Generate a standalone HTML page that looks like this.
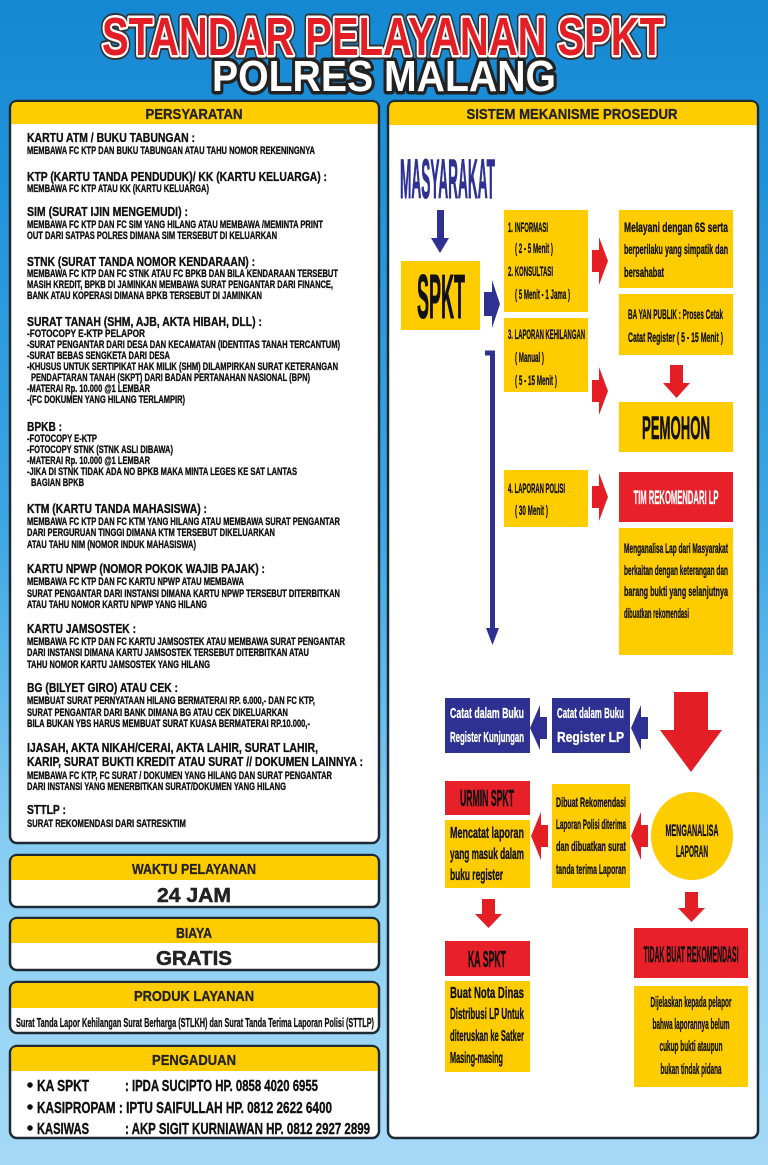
<!DOCTYPE html>
<html><head><meta charset="utf-8"><style>
html,body{margin:0;padding:0;width:768px;height:1165px;overflow:hidden}
svg{display:block}
text{font-family:"Liberation Sans",sans-serif;font-weight:bold}
</style></head><body>
<svg width="768" height="1165" viewBox="0 0 768 1165" xmlns="http://www.w3.org/2000/svg">
<defs>
<linearGradient id="bg" x1="0" y1="0" x2="0" y2="1">
<stop offset="0" stop-color="#1488d3"/><stop offset="0.45" stop-color="#3da6e3"/><stop offset="0.75" stop-color="#8ccff3"/><stop offset="1" stop-color="#a5daf6"/>
</linearGradient>
</defs>
<rect width="768" height="1165" fill="url(#bg)"/>

<!-- Title -->
<g text-anchor="middle">
<text x="383" y="55" font-size="54" textLength="562" lengthAdjust="spacingAndGlyphs" fill="#e31e25" stroke="#333" stroke-width="9" stroke-linejoin="round" paint-order="stroke">STANDAR PELAYANAN SPKT</text>
<text x="383" y="55" font-size="54" textLength="562" lengthAdjust="spacingAndGlyphs" fill="#e31e25" stroke="#fff" stroke-width="5" stroke-linejoin="round" paint-order="stroke">STANDAR PELAYANAN SPKT</text>
<text x="384" y="91" font-size="44" textLength="344" lengthAdjust="spacingAndGlyphs" fill="#fff" stroke="#222" stroke-width="7" stroke-linejoin="round" paint-order="stroke">POLRES MALANG</text>
</g>

<!-- Left panel -->
<rect x="10" y="101" width="369" height="742" rx="7" fill="#fff" stroke="#1d2a33" stroke-width="2.5"/>
<path d="M11.5 124 V107 Q11.5 102 17 102 H372 Q377.5 102 377.5 107 V124 Z" fill="#ffcc00"/>
<text x="194" y="119" font-size="15" text-anchor="middle" textLength="97" lengthAdjust="spacingAndGlyphs" fill="#222" stroke="#222" stroke-width="0.3">PERSYARATAN</text>

<g fill="#111" stroke="#111" stroke-width="0.35">
<text x="27" y="142" font-size="13" textLength="168" lengthAdjust="spacingAndGlyphs">KARTU ATM / BUKU TABUNGAN :</text>
<text x="27" y="154" font-size="11" textLength="288" lengthAdjust="spacingAndGlyphs">MEMBAWA FC KTP DAN BUKU TABUNGAN ATAU TAHU NOMOR REKENINGNYA</text>
<text x="27" y="181" font-size="13" textLength="300" lengthAdjust="spacingAndGlyphs">KTP (KARTU TANDA PENDUDUK)/ KK (KARTU KELUARGA) :</text>
<text x="27" y="192" font-size="11" textLength="182" lengthAdjust="spacingAndGlyphs">MEMBAWA FC KTP ATAU KK (KARTU KELUARGA)</text>
<text x="27" y="216" font-size="13" textLength="161" lengthAdjust="spacingAndGlyphs">SIM (SURAT IJIN MENGEMUDI) :</text>
<text x="27" y="228" font-size="11" textLength="296" lengthAdjust="spacingAndGlyphs">MEMBAWA FC KTP DAN FC SIM YANG HILANG ATAU MEMBAWA /MEMINTA PRINT</text>
<text x="27" y="239" font-size="11" textLength="250" lengthAdjust="spacingAndGlyphs">OUT DARI SATPAS POLRES DIMANA SIM TERSEBUT DI KELUARKAN</text>
<text x="27" y="266" font-size="13" textLength="228" lengthAdjust="spacingAndGlyphs">STNK (SURAT TANDA NOMOR KENDARAAN) :</text>
<text x="27" y="277" font-size="11" textLength="311" lengthAdjust="spacingAndGlyphs">MEMBAWA FC KTP DAN FC STNK ATAU FC BPKB DAN BILA KENDARAAN TERSEBUT</text>
<text x="27" y="288" font-size="11" textLength="306" lengthAdjust="spacingAndGlyphs">MASIH KREDIT, BPKB DI JAMINKAN MEMBAWA SURAT PENGANTAR DARI FINANCE,</text>
<text x="27" y="299" font-size="11" textLength="235" lengthAdjust="spacingAndGlyphs">BANK ATAU KOPERASI DIMANA BPKB TERSEBUT DI JAMINKAN</text>
<text x="27" y="326" font-size="13" textLength="235" lengthAdjust="spacingAndGlyphs">SURAT TANAH (SHM, AJB, AKTA HIBAH, DLL) :</text>
<text x="27" y="337" font-size="11" textLength="118" lengthAdjust="spacingAndGlyphs">-FOTOCOPY E-KTP PELAPOR</text>
<text x="27" y="348" font-size="11" textLength="313" lengthAdjust="spacingAndGlyphs">-SURAT PENGANTAR DARI DESA DAN KECAMATAN (IDENTITAS TANAH TERCANTUM)</text>
<text x="27" y="359" font-size="11" textLength="143" lengthAdjust="spacingAndGlyphs">-SURAT BEBAS SENGKETA DARI DESA</text>
<text x="27" y="370" font-size="11" textLength="311" lengthAdjust="spacingAndGlyphs">-KHUSUS UNTUK SERTIPIKAT HAK MILIK (SHM) DILAMPIRKAN SURAT KETERANGAN</text>
<text x="31" y="381" font-size="11" textLength="279" lengthAdjust="spacingAndGlyphs">PENDAFTARAN TANAH (SKPT) DARI BADAN PERTANAHAN NASIONAL (BPN)</text>
<text x="27" y="392" font-size="11" textLength="123" lengthAdjust="spacingAndGlyphs">-MATERAI Rp. 10.000 @1 LEMBAR</text>
<text x="27" y="403" font-size="11" textLength="158" lengthAdjust="spacingAndGlyphs">-(FC DOKUMEN YANG HILANG TERLAMPIR)</text>

<text x="27" y="431" font-size="13" textLength="35" lengthAdjust="spacingAndGlyphs">BPKB :</text>
<text x="27" y="442" font-size="11" textLength="70" lengthAdjust="spacingAndGlyphs">-FOTOCOPY E-KTP</text>
<text x="27" y="453" font-size="11" textLength="146" lengthAdjust="spacingAndGlyphs">-FOTOCOPY STNK (STNK ASLI DIBAWA)</text>
<text x="27" y="464" font-size="11" textLength="123" lengthAdjust="spacingAndGlyphs">-MATERAI Rp. 10.000 @1 LEMBAR</text>
<text x="27" y="475" font-size="11" textLength="270" lengthAdjust="spacingAndGlyphs">-JIKA DI STNK TIDAK ADA NO BPKB MAKA MINTA LEGES KE SAT LANTAS</text>
<text x="31" y="486" font-size="11" textLength="53" lengthAdjust="spacingAndGlyphs">BAGIAN BPKB</text>
<text x="27" y="513" font-size="13" textLength="180" lengthAdjust="spacingAndGlyphs">KTM (KARTU TANDA MAHASISWA) :</text>
<text x="27" y="525" font-size="11" textLength="313" lengthAdjust="spacingAndGlyphs">MEMBAWA FC KTP DAN FC KTM YANG HILANG ATAU MEMBAWA SURAT PENGANTAR</text>
<text x="27" y="536" font-size="11" textLength="248" lengthAdjust="spacingAndGlyphs">DARI PERGURUAN TINGGI DIMANA KTM TERSEBUT DIKELUARKAN</text>
<text x="27" y="548" font-size="11" textLength="169" lengthAdjust="spacingAndGlyphs">ATAU TAHU NIM (NOMOR INDUK MAHASISWA)</text>
<text x="27" y="573" font-size="13" textLength="238" lengthAdjust="spacingAndGlyphs">KARTU NPWP (NOMOR POKOK WAJIB PAJAK) :</text>
<text x="27" y="585" font-size="11" textLength="217" lengthAdjust="spacingAndGlyphs">MEMBAWA FC KTP DAN FC KARTU NPWP ATAU MEMBAWA</text>
<text x="27" y="597" font-size="11" textLength="313" lengthAdjust="spacingAndGlyphs">SURAT PENGANTAR DARI INSTANSI DIMANA KARTU NPWP TERSEBUT DITERBITKAN</text>
<text x="27" y="608" font-size="11" textLength="180" lengthAdjust="spacingAndGlyphs">ATAU TAHU NOMOR KARTU NPWP YANG HILANG</text>
<text x="27" y="633" font-size="13" textLength="109" lengthAdjust="spacingAndGlyphs">KARTU JAMSOSTEK :</text>
<text x="27" y="645" font-size="11" textLength="318" lengthAdjust="spacingAndGlyphs">MEMBAWA FC KTP DAN FC KARTU JAMSOSTEK ATAU MEMBAWA SURAT PENGANTAR</text>
<text x="27" y="656" font-size="11" textLength="282" lengthAdjust="spacingAndGlyphs">DARI INSTANSI DIMANA KARTU JAMSOSTEK TERSEBUT DITERBITKAN ATAU</text>
<text x="27" y="668" font-size="11" textLength="183" lengthAdjust="spacingAndGlyphs">TAHU NOMOR KARTU JAMSOSTEK YANG HILANG</text>
<text x="27" y="692" font-size="13" textLength="151" lengthAdjust="spacingAndGlyphs">BG (BILYET GIRO) ATAU CEK :</text>
<text x="27" y="704" font-size="11" textLength="288" lengthAdjust="spacingAndGlyphs">MEMBUAT SURAT PERNYATAAN HILANG BERMATERAI RP. 6.000,- DAN FC KTP,</text>
<text x="27" y="716" font-size="11" textLength="261" lengthAdjust="spacingAndGlyphs">SURAT PENGANTAR DARI BANK DIMANA BG ATAU CEK DIKELUARKAN</text>
<text x="27" y="727" font-size="11" textLength="283" lengthAdjust="spacingAndGlyphs">BILA BUKAN YBS HARUS MEMBUAT SURAT KUASA BERMATERAI RP.10.000,-</text>
<text x="27" y="752" font-size="13" textLength="291" lengthAdjust="spacingAndGlyphs">IJASAH, AKTA NIKAH/CERAI, AKTA LAHIR, SURAT LAHIR,</text>
<text x="27" y="766" font-size="13" textLength="336" lengthAdjust="spacingAndGlyphs">KARIP, SURAT BUKTI KREDIT ATAU SURAT // DOKUMEN LAINNYA :</text>
<text x="27" y="779" font-size="11" textLength="305" lengthAdjust="spacingAndGlyphs">MEMBAWA FC KTP, FC SURAT / DOKUMEN YANG HILANG DAN SURAT PENGANTAR</text>
<text x="27" y="790" font-size="11" textLength="259" lengthAdjust="spacingAndGlyphs">DARI INSTANSI YANG MENERBITKAN SURAT/DOKUMEN YANG HILANG</text>
<text x="27" y="814" font-size="13" textLength="39" lengthAdjust="spacingAndGlyphs">STTLP :</text>
<text x="27" y="827" font-size="11" textLength="159" lengthAdjust="spacingAndGlyphs">SURAT REKOMENDASI  DARI  SATRESKTIM</text>
</g>

<!-- Bottom-left boxes -->
<g>
<rect x="10" y="855" width="369" height="52" rx="7" fill="#fff" stroke="#1d2a33" stroke-width="2.5"/>
<path d="M11.5 880 V861 Q11.5 856 17 856 H372 Q377.5 856 377.5 861 V880 Z" fill="#ffcc00"/>
<text x="194" y="874" font-size="15" text-anchor="middle" textLength="124" lengthAdjust="spacingAndGlyphs" fill="#222" stroke="#222" stroke-width="0.3">WAKTU PELAYANAN</text>
<text x="194" y="902" font-size="20" text-anchor="middle" textLength="74" lengthAdjust="spacingAndGlyphs" fill="#222" stroke="#222" stroke-width="0.5">24 JAM</text>

<rect x="10" y="918" width="369" height="52" rx="7" fill="#fff" stroke="#1d2a33" stroke-width="2.5"/>
<path d="M11.5 943 V924 Q11.5 919 17 919 H372 Q377.5 919 377.5 924 V943 Z" fill="#ffcc00"/>
<text x="194" y="938" font-size="15" text-anchor="middle" textLength="36" lengthAdjust="spacingAndGlyphs" fill="#222" stroke="#222" stroke-width="0.3">BIAYA</text>
<text x="194" y="965" font-size="20" text-anchor="middle" textLength="76" lengthAdjust="spacingAndGlyphs" fill="#222" stroke="#222" stroke-width="0.5">GRATIS</text>

<rect x="10" y="982" width="369" height="51" rx="7" fill="#fff" stroke="#1d2a33" stroke-width="2.5"/>
<path d="M11.5 1008 V988 Q11.5 983 17 983 H372 Q377.5 983 377.5 988 V1008 Z" fill="#ffcc00"/>
<text x="194" y="1001" font-size="15" text-anchor="middle" textLength="120" lengthAdjust="spacingAndGlyphs" fill="#222" stroke="#222" stroke-width="0.3">PRODUK LAYANAN</text>
<text x="195" y="1027" font-size="13" text-anchor="middle" textLength="358" lengthAdjust="spacingAndGlyphs" fill="#111" stroke="#111" stroke-width="0.3">Surat Tanda Lapor Kehilangan Surat Berharga (STLKH) dan Surat Tanda Terima Laporan Polisi (STTLP)</text>

<rect x="10" y="1046" width="369" height="92" rx="7" fill="#fff" stroke="#1d2a33" stroke-width="2.5"/>
<path d="M11.5 1071 V1052 Q11.5 1047 17 1047 H372 Q377.5 1047 377.5 1052 V1071 Z" fill="#ffcc00"/>
<text x="194" y="1065" font-size="15" text-anchor="middle" textLength="84" lengthAdjust="spacingAndGlyphs" fill="#222" stroke="#222" stroke-width="0.3">PENGADUAN</text>
<g fill="#111" font-size="16" stroke="#111" stroke-width="0.4">
<circle cx="30" cy="1085" r="2.6"/><circle cx="30" cy="1107" r="2.6"/><circle cx="30" cy="1128" r="2.6"/>
<text x="37" y="1091" textLength="52" lengthAdjust="spacingAndGlyphs">KA SPKT</text>
<text x="125" y="1091" textLength="193" lengthAdjust="spacingAndGlyphs">: IPDA SUCIPTO HP. 0858 4020 6955</text>
<text x="37" y="1113" textLength="295" lengthAdjust="spacingAndGlyphs">KASIPROPAM : IPTU SAIFULLAH HP. 0812 2622 6400</text>
<text x="37" y="1134" textLength="52" lengthAdjust="spacingAndGlyphs">KASIWAS</text>
<text x="125" y="1134" textLength="245" lengthAdjust="spacingAndGlyphs">: AKP SIGIT KURNIAWAN HP. 0812 2927 2899</text>
</g>
</g>

<!-- Right panel -->
<rect x="388" y="101" width="370" height="1037" rx="7" fill="#fff" stroke="#1d2a33" stroke-width="2.5"/>
<path d="M389.5 125 V107 Q389.5 102 395 102 H751 Q756.5 102 756.5 107 V125 Z" fill="#ffcc00"/>
<text x="572" y="119" font-size="15" text-anchor="middle" textLength="211" lengthAdjust="spacingAndGlyphs" fill="#222" stroke="#222" stroke-width="0.3">SISTEM MEKANISME  PROSEDUR</text>

<!-- MASYARAKAT -->
<text x="400" y="198" font-size="56" textLength="95" lengthAdjust="spacingAndGlyphs" fill="#2e3192" stroke="#2e3192" stroke-width="1">MASYARAKAT</text>
<polygon points="437,210 444,210 444,238 449,238 440,253 431,238 437,238" fill="#2e3192"/>

<!-- SPKT -->
<rect x="401" y="261" width="79" height="69" fill="#ffcc00"/>
<text x="441" y="318" font-size="62" text-anchor="middle" textLength="48" lengthAdjust="spacingAndGlyphs" fill="#111" stroke="#111" stroke-width="1">SPKT</text>
<polygon points="484,292 492,292 492,280 500,304 492,328 492,316 484,316" fill="#2e3192"/>

<g fill="#111" font-size="14" stroke="#111" stroke-width="0.3">
<!-- Box 1/2 -->
<rect x="504" y="210" width="84" height="102" fill="#ffcc00" stroke="none"/>
<text x="508" y="232" textLength="40" lengthAdjust="spacingAndGlyphs">1. INFORMASI</text>
<text x="515" y="253" textLength="38" lengthAdjust="spacingAndGlyphs">( 2 - 5 Menit )</text>
<text x="508" y="276" textLength="45" lengthAdjust="spacingAndGlyphs">2. KONSULTASI</text>
<text x="515" y="299" textLength="55" lengthAdjust="spacingAndGlyphs">( 5 Menit - 1 Jama )</text>
<!-- Box 3 -->
<rect x="504" y="318" width="84" height="74" fill="#ffcc00" stroke="none"/>
<text x="508" y="339" textLength="77" lengthAdjust="spacingAndGlyphs">3. LAPORAN KEHILANGAN</text>
<text x="515" y="362" textLength="29" lengthAdjust="spacingAndGlyphs">( Manual )</text>
<text x="515" y="385" textLength="42" lengthAdjust="spacingAndGlyphs">( 5 - 15 Menit )</text>
</g>

<!-- red right arrows -->
<polygon points="592,250 599,250 599,237 608,261 599,285 599,272 592,272" fill="#e31e25"/>
<polygon points="592,380 599,380 599,367 608,391 599,415 599,402 592,402" fill="#e31e25"/>
<polygon points="592,486 599,486 599,473 608,497 599,521 599,508 592,508" fill="#e31e25"/>

<g fill="#111" font-size="14" stroke="#111" stroke-width="0.3">
<rect x="619" y="210" width="114" height="78" fill="#ffcc00" stroke="none"/>
<text x="624" y="232" textLength="104" lengthAdjust="spacingAndGlyphs">Melayani  dengan  6S  serta</text>
<text x="624" y="254" textLength="104" lengthAdjust="spacingAndGlyphs">berperilaku yang simpatik dan</text>
<text x="624" y="277" textLength="40" lengthAdjust="spacingAndGlyphs">bersahabat</text>
<rect x="619" y="294" width="114" height="61" fill="#ffcc00" stroke="none"/>
<text x="628" y="319" textLength="95" lengthAdjust="spacingAndGlyphs">BA YAN PUBLIK : Proses Cetak</text>
<text x="628" y="342" textLength="95" lengthAdjust="spacingAndGlyphs">Catat Register  ( 5 - 15 Menit )</text>
</g>
<polygon points="670,365 683,365 683,383 690,383 676.5,398 663,383 670,383" fill="#e31e25"/>
<rect x="619" y="402" width="114" height="50" fill="#ffcc00"/>
<text x="676" y="439" font-size="32" text-anchor="middle" textLength="68" lengthAdjust="spacingAndGlyphs" fill="#111" stroke="#111" stroke-width="0.6">PEMOHON</text>

<g fill="#111" font-size="14" stroke="#111" stroke-width="0.3">
<rect x="504" y="470" width="84" height="57" fill="#ffcc00" stroke="none"/>
<text x="508" y="493" textLength="57" lengthAdjust="spacingAndGlyphs">4. LAPORAN POLISI</text>
<text x="515" y="515" textLength="33" lengthAdjust="spacingAndGlyphs">( 30 Menit )</text>
</g>
<rect x="619" y="472" width="114" height="50" fill="#e8202a"/>
<text x="676" y="504" font-size="19" text-anchor="middle" textLength="85" lengthAdjust="spacingAndGlyphs" fill="#fff" stroke="#fff" stroke-width="0.3">TIM REKOMENDARI LP</text>
<g fill="#111" font-size="14" stroke="#111" stroke-width="0.3">
<rect x="619" y="528" width="114" height="127" fill="#ffcc00" stroke="none"/>
<text x="624" y="553" textLength="104" lengthAdjust="spacingAndGlyphs">Menganalisa Lap dari Masyarakat</text>
<text x="624" y="575" textLength="104" lengthAdjust="spacingAndGlyphs">berkaitan dengan keterangan dan</text>
<text x="624" y="596" textLength="104" lengthAdjust="spacingAndGlyphs">barang  bukti  yang  selanjutnya</text>
<text x="624" y="618" textLength="65" lengthAdjust="spacingAndGlyphs">dibuatkan rekomendasi</text>
</g>

<!-- blue vertical line -->
<path d="M485 353 H492.5 V630" fill="none" stroke="#2e3192" stroke-width="5"/>
<polygon points="486,628 499,628 492.5,645" fill="#2e3192"/>

<!-- Catat boxes -->
<g fill="#fff" font-size="15" stroke="#fff" stroke-width="0.3">
<rect x="445" y="698" width="85" height="55" fill="#2e3192" stroke="none"/>
<text x="450" y="718" textLength="74" lengthAdjust="spacingAndGlyphs">Catat  dalam  Buku</text>
<text x="450" y="742" textLength="74" lengthAdjust="spacingAndGlyphs">Register Kunjungan</text>
<rect x="552" y="698" width="78" height="55" fill="#2e3192" stroke="none"/>
<text x="557" y="718" textLength="67" lengthAdjust="spacingAndGlyphs">Catat dalam Buku</text>
<text x="557" y="742" textLength="67" lengthAdjust="spacingAndGlyphs">Register  LP</text>
</g>
<polygon points="547,717 540,717 540,705 530,728 540,750 540,739 547,739" fill="#2e3192"/>
<polygon points="648,717 641,717 641,705 631,728 641,750 641,739 648,739" fill="#2e3192"/>

<!-- big red arrow -->
<polygon points="674,692 708,692 708,730 722,730 691,772 660,730 674,730" fill="#e31e25"/>

<!-- URMIN -->
<rect x="445" y="781" width="85" height="34" fill="#e8202a"/>
<text x="487" y="806" font-size="23" text-anchor="middle" textLength="54" lengthAdjust="spacingAndGlyphs" fill="#111" stroke="#111" stroke-width="0.5">URMIN SPKT</text>
<g fill="#111" font-size="16" stroke="#111" stroke-width="0.35">
<rect x="445" y="820" width="85" height="68" fill="#ffcc00" stroke="none"/>
<text x="450" y="838" textLength="74" lengthAdjust="spacingAndGlyphs">Mencatat  laporan</text>
<text x="450" y="859" textLength="74" lengthAdjust="spacingAndGlyphs">yang masuk dalam</text>
<text x="450" y="880" textLength="53" lengthAdjust="spacingAndGlyphs">buku register</text>
</g>

<g fill="#111" font-size="14" stroke="#111" stroke-width="0.3">
<rect x="552" y="784" width="78" height="104" fill="#ffcc00" stroke="none"/>
<text x="556" y="807" textLength="70" lengthAdjust="spacingAndGlyphs">Dibuat Rekomendasi</text>
<text x="556" y="829" textLength="70" lengthAdjust="spacingAndGlyphs">Laporan Polisi diterima</text>
<text x="556" y="851" textLength="70" lengthAdjust="spacingAndGlyphs">dan  dibuatkan  surat</text>
<text x="556" y="874" textLength="70" lengthAdjust="spacingAndGlyphs">tanda  terima  Laporan</text>
</g>
<polygon points="548,825 541,825 541,812 531,836 541,860 541,847 548,847" fill="#e31e25"/>
<polygon points="648,825 641,825 641,812 631,836 641,860 641,847 648,847" fill="#e31e25"/>

<ellipse cx="692" cy="836" rx="41" ry="44" fill="#ffcc00"/>
<g fill="#111" font-size="17" text-anchor="middle" stroke="#111" stroke-width="0.35">
<text x="692" y="836" textLength="53" lengthAdjust="spacingAndGlyphs">MENGANALISA</text>
<text x="692" y="857" textLength="32" lengthAdjust="spacingAndGlyphs">LAPORAN</text>
</g>
<polygon points="685,892 698,892 698,908 705,908 691.5,922 678,908 685,908" fill="#e31e25"/>
<polygon points="482,899 495,899 495,914 502,914 488.5,928 475,914 482,914" fill="#e31e25"/>

<rect x="445" y="941" width="85" height="35" fill="#e8202a"/>
<text x="487" y="967" font-size="23" text-anchor="middle" textLength="38" lengthAdjust="spacingAndGlyphs" fill="#111" stroke="#111" stroke-width="0.5">KA SPKT</text>
<g fill="#111" font-size="16" stroke="#111" stroke-width="0.35">
<rect x="445" y="981" width="85" height="91" fill="#ffcc00" stroke="none"/>
<text x="450" y="998" textLength="74" lengthAdjust="spacingAndGlyphs">Buat  Nota  Dinas</text>
<text x="450" y="1019" textLength="74" lengthAdjust="spacingAndGlyphs">Distribusi LP Untuk</text>
<text x="450" y="1041" textLength="74" lengthAdjust="spacingAndGlyphs">diteruskan ke Satker</text>
<text x="450" y="1063" textLength="53" lengthAdjust="spacingAndGlyphs">Masing-masing</text>
</g>

<rect x="634" y="928" width="114" height="50" fill="#e8202a"/>
<text x="691" y="962" font-size="22" text-anchor="middle" textLength="95" lengthAdjust="spacingAndGlyphs" fill="#111" stroke="#111" stroke-width="0.4">TIDAK BUAT REKOMENDASI</text>
<g fill="#111" font-size="15" text-anchor="middle" stroke="#111" stroke-width="0.3">
<rect x="634" y="986" width="114" height="101" fill="#ffcc00" stroke="none"/>
<text x="691" y="1007" textLength="81" lengthAdjust="spacingAndGlyphs">Dijelaskan kepada pelapor</text>
<text x="691" y="1029" textLength="77" lengthAdjust="spacingAndGlyphs">bahwa laporannya belum</text>
<text x="691" y="1051" textLength="63" lengthAdjust="spacingAndGlyphs">cukup bukti ataupun</text>
<text x="691" y="1074" textLength="61" lengthAdjust="spacingAndGlyphs">bukan tindak pidana</text>
</g>
</svg>
</body></html>
